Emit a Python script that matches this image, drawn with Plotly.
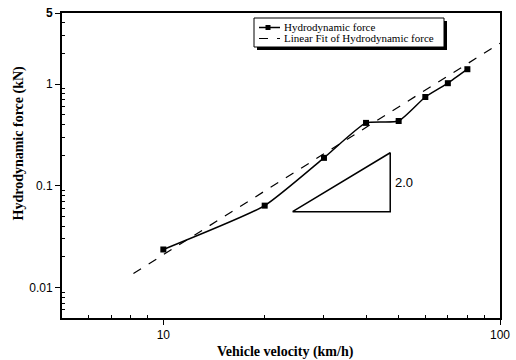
import numpy as np
import plotly.graph_objects as go

# Data
velocity = [10, 20, 30, 40, 50, 60, 70, 80]
force = [0.0236, 0.0637, 0.188, 0.415, 0.433, 0.746, 1.02, 1.40]
fit_x = [8.15, 100]
fit_y = [0.0137, 2.52]
tri_x = [24.2, 47.2, 47.2, 24.2]
tri_y = [0.0556, 0.0556, 0.211, 0.0556]
slope_label = "2.0"
legend_labels = ["Hydrodynamic force", "Linear Fit of Hydrodynamic force"]

x_ticks = [10, 100]
x_ticktext = ["10", "100"]
y_ticks = [0.01, 0.1, 1, 5]
y_ticktext = ["0.01", "0.1", "1", "<b>5</b>"]

x_minor = [6, 7, 8, 9, 20, 30, 40, 50, 60, 70, 80, 90]
y_minor = [0.006, 0.007, 0.008, 0.009, 0.02, 0.03, 0.04, 0.05, 0.06, 0.07, 0.08, 0.09,
           0.2, 0.3, 0.4, 0.5, 0.6, 0.7, 0.8, 0.9, 2, 3, 4]

# plot area in pixels (for paper coordinate conversion)
L, R, T, B = 62, 500, 13, 318
def px(x):
    return (x - L) / (R - L)
def py(y):
    return (B - y) / (B - T)

fig = go.Figure()

fig.add_trace(go.Scatter(
    x=velocity, y=force, mode="lines+markers", name=legend_labels[0],
    line=dict(color="black", width=1.5, shape="spline", smoothing=0.5),
    marker=dict(symbol="square", size=6, color="black"),
    showlegend=False,
))
fig.add_trace(go.Scatter(
    x=fit_x, y=fit_y, mode="lines", name=legend_labels[1],
    line=dict(color="black", width=1.2, dash="dash"),
    showlegend=False,
))
fig.add_trace(go.Scatter(
    x=tri_x, y=tri_y, mode="lines", showlegend=False,
    line=dict(color="black", width=1.5),
))

fig.add_annotation(x=np.log10(47.2), y=np.log10(0.108), text=slope_label,
                   showarrow=False, xanchor="left", xshift=3,
                   font=dict(family="Liberation Sans", size=13, color="black"))

# manual legend: shadow, box, symbols, texts
row_y = [27.5, 38.5]
fig.add_shape(type="rect", xref="paper", yref="paper",
              x0=px(257), x1=px(447), y0=py(50), y1=py(21),
              fillcolor="black", line=dict(width=0))
fig.add_shape(type="rect", xref="paper", yref="paper",
              x0=px(254), x1=px(444), y0=py(47), y1=py(18),
              fillcolor="white", line=dict(color="black", width=1))
fig.add_shape(type="line", xref="paper", yref="paper",
              x0=px(259), x1=px(280), y0=py(row_y[0]), y1=py(row_y[0]),
              line=dict(color="black", width=1.5))
fig.add_shape(type="rect", xref="paper", yref="paper",
              x0=px(265.5), x1=px(270.5), y0=py(row_y[0] + 2.5), y1=py(row_y[0] - 2.5),
              fillcolor="black", line=dict(color="black", width=0))
fig.add_shape(type="line", xref="paper", yref="paper",
              x0=px(259), x1=px(280), y0=py(row_y[1]), y1=py(row_y[1]),
              line=dict(color="black", width=1.2, dash="dash"))
for i, yy in enumerate(row_y):
    fig.add_annotation(xref="paper", yref="paper", x=px(282), y=py(yy),
                       text=legend_labels[i], showarrow=False,
                       xanchor="left", yanchor="middle",
                       font=dict(family="Liberation Serif", size=11, color="black"))

# axis titles
fig.add_annotation(xref="paper", yref="paper", x=px(285), y=py(352),
                   text="<b>Vehicle velocity (km/h)</b>", showarrow=False,
                   xanchor="center", yanchor="middle",
                   font=dict(family="Liberation Serif", size=14, color="black"))
fig.add_annotation(xref="paper", yref="paper", x=px(18), y=py(143.5),
                   text="<b>Hydrodynamic force (kN)</b>", showarrow=False,
                   textangle=-90, xanchor="center", yanchor="middle",
                   font=dict(family="Liberation Serif", size=14, color="black"))

axis_common = dict(
    type="log", showgrid=False, zeroline=False, automargin=False,
    showline=True, linecolor="black", linewidth=2, mirror=True,
    ticks="outside", ticklen=5, tickcolor="black", tickwidth=1,
    tickfont=dict(family="Liberation Sans", size=12, color="black"),
)

fig.update_layout(
    width=516, height=360,
    margin=dict(l=L, r=516 - R, t=T, b=360 - B),
    paper_bgcolor="white", plot_bgcolor="white",
    showlegend=False,
    xaxis=dict(
        **axis_common,
        range=[np.log10(5), 2],
        tickvals=x_ticks, ticktext=x_ticktext,
        minor=dict(tickvals=x_minor, ticks="inside", ticklen=3, tickcolor="black"),
    ),
    yaxis=dict(
        **axis_common,
        range=[np.log10(0.005), np.log10(5)],
        tickvals=y_ticks, ticktext=y_ticktext,
        minor=dict(tickvals=y_minor, ticks="inside", ticklen=3, tickcolor="black"),
    ),
)

fig.write_html("out.html")
